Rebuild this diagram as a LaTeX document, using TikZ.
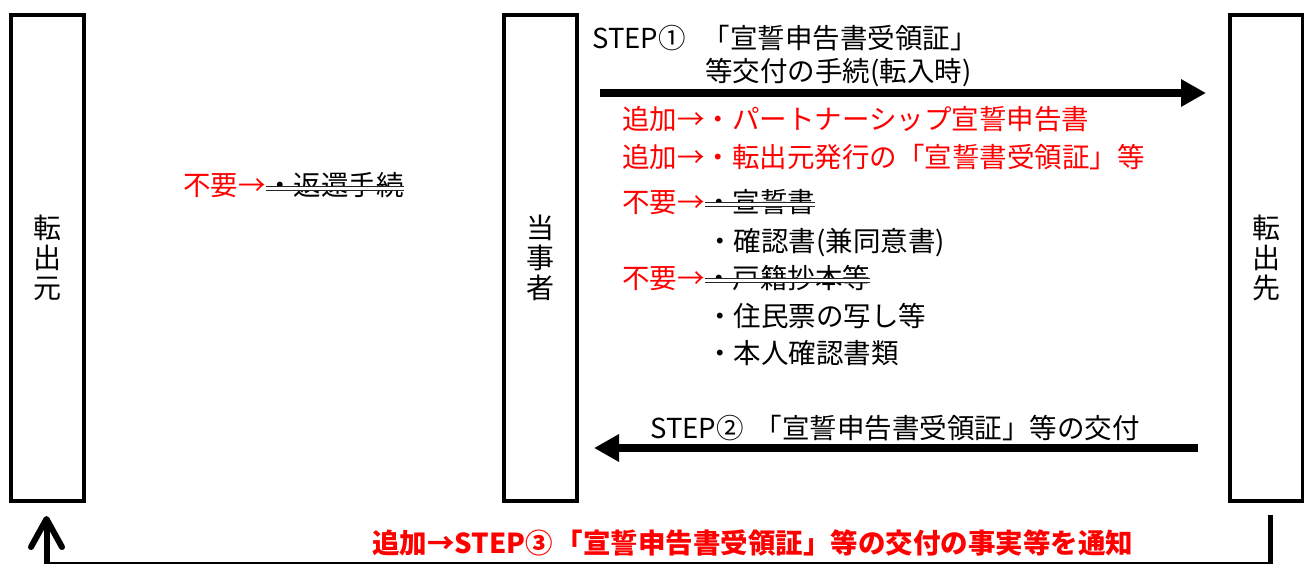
\documentclass[tikz,border=0pt]{standalone}
\usepackage{fontspec}
\setmainfont{Noto Sans CJK JP}
\usetikzlibrary{arrows.meta, positioning}

\begin{document}
\begin{tikzpicture}[x=1pt, y=-1pt,
    party/.style={rectangle, draw=black, line width=4pt, minimum width=73pt, minimum height=486pt, align=center, font=\fontsize{28}{30}\selectfont},
    txt/.style={anchor=west, inner sep=0pt, text height=24.2pt, text depth=3.3pt, font=\fontsize{27.5}{30}\selectfont},
    added/.style={txt, text=red},
    strikeout/.style={draw=black!85, line width=0.9pt, double, double distance=2.6pt},
    flow/.style={line width=8pt, -{Triangle[length=25pt, width=26pt]}},
    notify/.style={line width=6pt, -{Straight Barb[length=28pt, width=31pt, round]}}
    ]
    \useasboundingbox (0,0) rectangle (1304,566);

    % Parties
    \node (src) [party] at (47.5,258) {転\\出\\元};
    \node (me) [party] at (540,258) {当\\事\\者};
    \node (dst) [party] at (1266.5,258) {転\\出\\先};

    % STEP 1
    \node (s1a) [txt] at (592,38) {STEP①\hspace{17pt}「宣誓申告書受領証」};
    \node (s1b) [txt] at (705,71) {等交付の手続(転入時)};
    \coordinate (s1from) at (600,93);
    \coordinate (s1to) at (1206,93);
    \draw [flow] (s1from) -- (s1to);

    % Documents
    \node (add1) [added] at (622,119) {追加→・パートナーシップ宣誓申告書};
    \node (add2) [added] at (622,157) {追加→・転出元発行の「宣誓書受領証」等};
    \node (del1) [added] at (622,202) {不要→};
    \node (doc1) [txt, right=0pt of del1] {・宣誓書};
    \node (doc2) [txt] at (706,241) {・確認書(兼同意書)};
    \node (del2) [added] at (622,278) {不要→};
    \node (doc3) [txt, right=0pt of del2] {・戸籍抄本等};
    \node (doc4) [txt] at (706,316) {・住民票の写し等};
    \node (doc5) [txt] at (706,353) {・本人確認書類};
    \draw [strikeout] ([yshift=-2.5pt]doc1.west) -- ([yshift=-2.5pt]doc1.east);
    \draw [strikeout] ([yshift=-2.5pt]doc3.west) -- ([yshift=-2.5pt]doc3.east);

    % Return procedure
    \node (del0) [added] at (183,185) {不要→};
    \node (ret) [txt, right=0pt of del0] {・返還手続};
    \draw [strikeout] ([yshift=-3.5pt]ret.west) -- ([yshift=-3.5pt]ret.east);

    % STEP 2
    \node (s2) [txt] at (650,428) {STEP②\hspace{11pt}「宣誓申告書受領証」等の交付};
    \coordinate (s2from) at (1198,448);
    \coordinate (s2to) at (594,448);
    \draw [flow] (s2from) -- (s2to);

    % STEP 3
    \node (s3) [added, font=\fontsize{27.5}{30}\selectfont\bfseries] at (372,543) {追加→STEP③\hspace{3pt}「宣誓申告書受領証」等の交付の事実等を通知};
    \coordinate (nR) at (1270,515);
    \coordinate (nL) at (46.5,516);
    \coordinate (nB) at (0,563);
    \draw [line width=5pt] (nR) -- (nR |- nB);
    \draw [line width=2.5pt] ([xshift=2.5pt]nR |- nB) -- (nL |- nB);
    \draw [notify] ([yshift=-1.25pt]nL |- nB) -- (nL);
\end{tikzpicture}
\end{document}
